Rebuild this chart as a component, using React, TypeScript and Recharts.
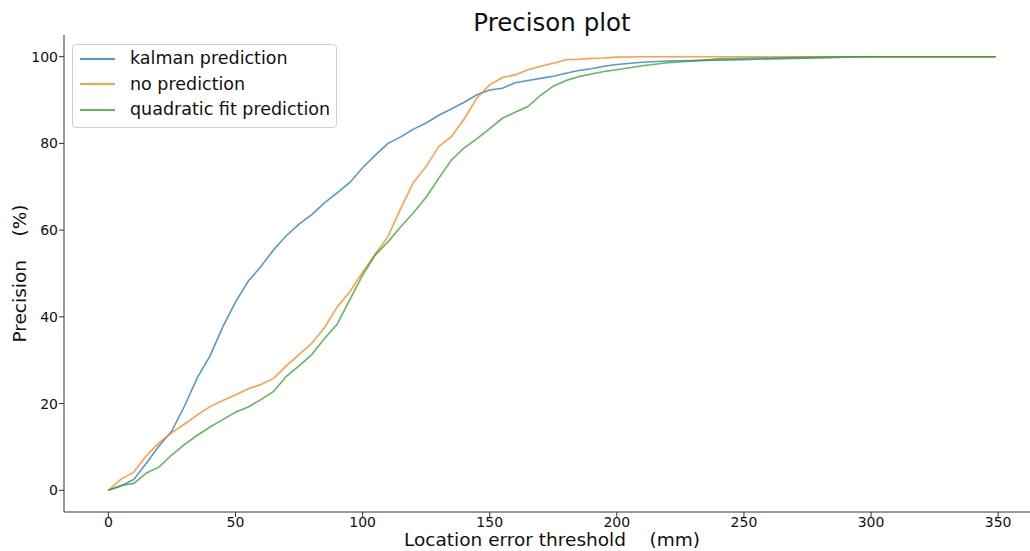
import { LineChart, Line, XAxis, YAxis, Legend } from "recharts";

// threshold grid (mm) shared by all three curves
const thresholds = [
  0, 5, 10, 15, 20, 25, 30, 35, 40, 45, 50, 55, 60, 65, 70, 75, 80, 85, 90, 95,
  100, 105, 110, 115, 120, 125, 130, 135, 140, 145, 150, 155, 160, 165, 170,
  175, 180, 185, 190, 195, 200, 210, 220, 230, 240, 250, 260, 270, 280, 290,
  300, 310, 320, 330, 340, 349,
];

const kalman = [
  0, 1.0, 2.5, 6.3, 10.3, 13.7, 19.5, 26, 31, 37.7, 43.4, 48.2, 51.6, 55.5,
  58.7, 61.4, 63.6, 66.3, 68.6, 71, 74.4, 77.3, 80, 81.5, 83.3, 84.7, 86.5, 88,
  89.5, 91.2, 92.3, 92.7, 94, 94.5, 95, 95.5, 96.2, 96.8, 97.2, 97.8, 98.2,
  98.7, 99, 99.1, 99.2, 99.3, 99.5, 99.6, 99.7, 99.9, 100, 100, 100, 100, 100,
  100,
];

const noPrediction = [
  0, 2.6, 4.2, 8, 11, 13.3, 15.3, 17.4, 19.3, 20.7, 22, 23.4, 24.4, 25.8, 28.7,
  31.3, 33.9, 37.5, 42.3, 45.8, 50.3, 54.5, 58.5, 65, 71, 74.7, 79.3, 81.6,
  85.7, 90.5, 93.5, 95.2, 95.8, 97, 97.8, 98.5, 99.3, 99.4, 99.6, 99.7, 99.9,
  100, 100, 100, 100, 100, 100, 100, 100, 100, 100, 100, 100, 100, 100, 100,
];

const quadraticFit = [
  0, 1.1, 1.6, 4, 5.4, 8.2, 10.6, 12.7, 14.6, 16.3, 18, 19.2, 20.9, 22.8, 26.3,
  28.7, 31.3, 35, 38.3, 44, 49.6, 54.3, 57.3, 60.8, 64, 67.6, 72, 76.2, 79,
  81.1, 83.4, 85.8, 87.2, 88.5, 91.1, 93.2, 94.5, 95.4, 96, 96.6, 97, 97.9,
  98.6, 99, 99.5, 99.6, 99.7, 99.8, 99.9, 100, 100, 100, 100, 100, 100, 100,
];

const xTicks = [0, 50, 100, 150, 200, 250, 300, 350];
const yTicks = [0, 20, 40, 60, 80, 100];

const series = [
  { key: "kalman", name: "kalman prediction", color: "#1f77b4" },
  { key: "noPrediction", name: "no prediction", color: "#ff7f0e" },
  { key: "quadraticFit", name: "quadratic fit prediction", color: "#2ca02c" },
];

const chartData = thresholds.map((t, i) => ({
  threshold: t,
  kalman: kalman[i],
  noPrediction: noPrediction[i],
  quadraticFit: quadraticFit[i],
}));

// matplotlib-style 5% margins
const xMax = thresholds[thresholds.length - 1];
const xPad = xMax * 0.05;
const xDomain = [-xPad, xMax + xPad];
const yDomain = [-5, 105];

const FONT = "'DejaVu Sans', sans-serif";
const SPINE = "#333";

function LegendBox() {
  return (
    <div
      style={{
        width: 263,
        height: 81,
        border: "1px solid #d0d0d0",
        borderRadius: 4,
        background: "rgba(255,255,255,0.85)",
        fontFamily: FONT,
        fontSize: 17.5,
        color: "#111",
        boxSizing: "content-box",
        paddingTop: 1,
      }}
    >
      {series.map((s) => (
        <div
          key={s.key}
          style={{ display: "flex", alignItems: "center", height: 25.5 }}
        >
          <div
            style={{
              width: 35,
              height: 1.6,
              marginLeft: 7,
              marginRight: 15,
              background: s.color,
              opacity: 0.75,
            }}
          />
          <span style={{ lineHeight: 1 }}>{s.name}</span>
        </div>
      ))}
    </div>
  );
}

export default function App() {
  return (
    <div
      style={{
        position: "absolute",
        left: 0,
        top: 0,
        width: 1030,
        height: 551,
        overflow: "hidden",
        background: "#fff",
      }}
    >
      <LineChart
        width={1041}
        height={551}
        data={chartData}
        margin={{ top: 35, right: 1, bottom: 0, left: 0 }}
      >
        <XAxis
          xAxisId="top"
          orientation="top"
          dataKey="threshold"
          type="number"
          domain={xDomain}
          allowDataOverflow
          height={0}
          tick={false}
          tickLine={false}
          axisLine={{ stroke: SPINE, strokeWidth: 1 }}
        />
        <XAxis
          dataKey="threshold"
          type="number"
          domain={xDomain}
          allowDataOverflow
          ticks={xTicks}
          height={39}
          tickSize={5}
          tickMargin={0}
          tick={{ fill: "#111", fontSize: 14, fontFamily: FONT }}
          tickLine={{ stroke: SPINE }}
          axisLine={{ stroke: SPINE, strokeWidth: 1 }}
        />
        <YAxis
          type="number"
          domain={yDomain}
          allowDataOverflow
          ticks={yTicks}
          width={64}
          tickSize={5}
          tickMargin={1}
          tick={{ fill: "#111", fontSize: 14, fontFamily: FONT }}
          tickLine={{ stroke: SPINE }}
          axisLine={{ stroke: SPINE, strokeWidth: 1 }}
        />
        <Legend
          layout="vertical"
          align="center"
          verticalAlign="middle"
          content={() => <LegendBox />}
          wrapperStyle={{ left: 72, top: 44, width: 265, height: 83 }}
        />
        {series.map((s) => (
          <Line
            key={s.key}
            type="linear"
            dataKey={s.key}
            name={s.name}
            stroke={s.color}
            strokeOpacity={0.75}
            strokeWidth={1.6}
            dot={false}
            activeDot={false}
            isAnimationActive={false}
          />
        ))}
      </LineChart>
      <svg
        width={1030}
        height={551}
        style={{ position: "absolute", left: 0, top: 0, pointerEvents: "none" }}
      >
        <text
          x={552}
          y={31}
          textAnchor="middle"
          fontFamily={FONT}
          fontSize={24.5}
          fill="#111"
        >
          Precison plot
        </text>
        <text
          x={552}
          y={546}
          textAnchor="middle"
          fontFamily={FONT}
          fontSize={18.5}
          fill="#111"
          style={{ whiteSpace: "pre" }}
        >
          {"Location error threshold    (mm)"}
        </text>
        <text
          x={26}
          y={273.5}
          textAnchor="middle"
          fontFamily={FONT}
          fontSize={18.5}
          fill="#111"
          transform="rotate(-90 26 273.5)"
          style={{ whiteSpace: "pre" }}
        >
          {"Precision    (%)"}
        </text>
      </svg>
    </div>
  );
}
